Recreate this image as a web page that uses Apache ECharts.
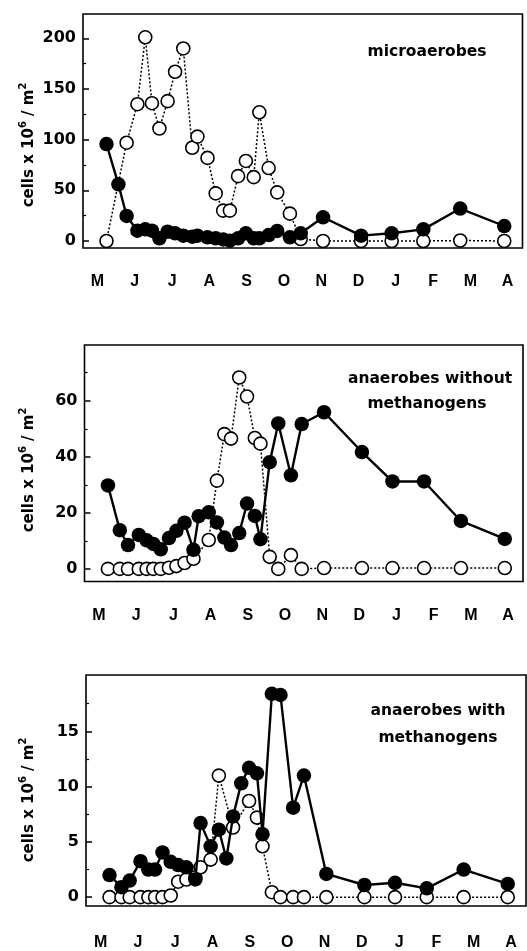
<!DOCTYPE html>
<html>
<head>
<meta charset="utf-8">
<script src="https://cdn.jsdelivr.net/npm/echarts@6/dist/echarts.min.js"></script>
<style>
    html, body { margin: 0; padding: 0; background: #fff; }
    #chart { width: 527px; height: 951px; }
</style>
</head>
<body>
<div id="chart"></div>
<script>
// month labels (May .. April), placed at integer positions
var months = ['M', 'J', 'J', 'A', 'S', 'O', 'N', 'D', 'J', 'F', 'M', 'A'];
var monthPos = [0, 1, 2, 3, 4, 5, 6, 7, 8, 9, 10, 11];

// sampling dates, in months after the "M" label
var dates = [0.24, 0.56, 0.78, 1.07, 1.28, 1.46, 1.66, 1.88, 2.08, 2.30,
    2.54, 2.68, 2.95, 3.17, 3.37, 3.55, 3.77, 3.98, 4.19, 4.34,
    4.59, 4.82, 5.16, 5.45, 6.05, 7.07, 7.89, 8.74, 9.73, 10.91];

// microaerobes
var microFilled = [95.7, 55.9, 24.7, 10.2, 11.5, 10.2, 2.6, 9.2, 7.6, 5.3,
    4.3, 5.3, 3.6, 2.6, 1.6, 0.3, 2.6, 7.6, 2.6, 2.6,
    5.9, 9.9, 3.6, 7.6, 23.4, 5.3, 7.6, 11.5, 32, 14.8];
var microOpen = [0, null, 97, 135, 201, 136, 111, 138, 167, 190,
    92, 103, 82, 47, 30, 30, 64, 79, 63, 127,
    72, 48, 27, 2, 0, 0, 0, 0, 0.5, 0];

// anaerobes without methanogens
var anaFilled = [29.8, 13.8, 8.5, 12.1, 10.2, 8.9, 7.0, 11.0, 13.6, 16.5,
    6.8, 18.8, 20.2, 16.6, 11.2, 8.5, 12.8, 23.3, 18.9, 10.6,
    38.1, 51.9, 33.4, 51.7, 55.9, 41.7, 31.2, 31.2, 17.1, 10.7];
var anaOpen = [0, 0, 0, 0, 0, 0, 0, 0.4, 1.0, 2.1,
    3.6, null, 10.3, 31.5, 48.1, 46.5, 68.3, 61.5, 46.7, 44.7,
    4.3, 0, 4.9, 0, 0.3, 0.3, 0.3, 0.3, 0.3, 0.3];

// anaerobes with methanogens
var methFilled = [2.0, 0.9, 1.5, 3.25, 2.5, 2.5, 4.05, 3.2, 2.9, 2.7,
    1.6, 6.7, 4.6, 6.1, 3.5, 7.3, 10.3, 11.7, 11.2, 5.7,
    18.4, 18.3, 8.1, 11.0, 2.1, 1.1, 1.3, 0.8, 2.5, 1.2];
var methOpen = [0, 0, 0, 0, 0, 0, 0, 0.15, 1.4, 1.6,
    1.8, 2.7, 3.4, 11.0, null, 6.3, null, 8.7, 7.2, 4.6,
    0.45, 0, 0, 0, 0, 0, 0, 0, 0, 0];

// y tick labels
var microTicks = [0, 50, 100, 150, 200];
var microMinor = [25, 75, 125, 175];
var anaTicks = [0, 20, 40, 60];
var anaMinor = [10, 30, 50, 70];
var methTicks = [0, 5, 10, 15];
var methMinor = [2.5, 7.5, 12.5, 17.5];

var panels = [
    {grid: {left: 83, top: 14, width: 439.5, height: 234}, min: -6.9, max: 224, labelGap: 26,
        ticks: microTicks, minor: microMinor, filled: microFilled, open: microOpen,
        labels: [['microaerobes', 427, 52]], title: [29, 145]},
    {grid: {left: 84.5, top: 345, width: 438.5, height: 236.5}, min: -4.5, max: 79.9, labelGap: 26,
        ticks: anaTicks, minor: anaMinor, filled: anaFilled, open: anaOpen,
        labels: [['anaerobes without', 430, 379], ['methanogens', 427, 404]], title: [29, 470]},
    {grid: {left: 86, top: 675, width: 440, height: 236}, min: -0.8, max: 20.1, labelGap: 29,
        ticks: methTicks, minor: methMinor, filled: methFilled, open: methOpen,
        labels: [['anaerobes with', 438, 711], ['methanogens', 438, 738]], title: [29, 800]}
];

function pairs(vals) {
    return dates.map(function (d, i) {
        return [d, vals[i] == null ? '-' : vals[i]];
    });
}

var chart = echarts.init(document.getElementById('chart'), null, {renderer: 'canvas'});
var grids = [], xAxes = [], yAxes = [], series = [], graphics = [];

panels.forEach(function (p, i) {
    grids.push({
        left: p.grid.left, top: p.grid.top, width: p.grid.width, height: p.grid.height,
        show: true, borderColor: '#000', borderWidth: 1.6, backgroundColor: 'transparent'
    });
    xAxes.push({
        gridIndex: i, type: 'value', position: 'bottom', min: -0.39, max: 11.4,
        axisLine: {show: false, onZero: false}, axisTick: {show: false}, splitLine: {show: false},
        axisLabel: {
            customValues: monthPos,
            formatter: function (v) { return months[Math.round(v)]; },
            margin: p.labelGap, color: '#000', fontSize: 16, fontWeight: 'bold',
            fontFamily: 'Liberation Sans'
        }
    });
    yAxes.push({
        gridIndex: i, type: 'value', position: 'left', min: p.min, max: p.max,
        axisLine: {show: false, onZero: false}, splitLine: {show: false},
        axisTick: {inside: true, length: 6, customValues: p.ticks, lineStyle: {color: '#000', width: 1.5}},
        axisLabel: {
            customValues: p.ticks, margin: 7, color: '#000', fontSize: 16,
            fontWeight: 'bold', fontFamily: 'DejaVu Sans'
        }
    });
    yAxes.push({
        gridIndex: i, type: 'value', position: 'left', min: p.min, max: p.max,
        axisLine: {show: false, onZero: false}, splitLine: {show: false}, axisLabel: {show: false},
        axisTick: {inside: true, length: 3, customValues: p.minor, lineStyle: {color: '#000', width: 1.2}}
    });
    series.push({
        type: 'line', xAxisIndex: i, yAxisIndex: i * 2, data: pairs(p.open),
        connectNulls: true, symbol: 'circle', symbolSize: 13, z: 2,
        itemStyle: {color: '#fff', borderColor: '#000', borderWidth: 1.6},
        lineStyle: {color: '#000', width: 1.5, type: [2, 2]}
    });
    series.push({
        type: 'line', xAxisIndex: i, yAxisIndex: i * 2, data: pairs(p.filled),
        symbol: 'circle', symbolSize: 14.5, z: 3,
        itemStyle: {color: '#000'},
        lineStyle: {color: '#000', width: 2.4}
    });
    p.labels.forEach(function (l) {
        graphics.push({
            type: 'text', x: l[1], y: l[2], z: 10,
            style: {
                text: l[0], align: 'center', verticalAlign: 'middle', fill: '#000',
                fontSize: 15.5, fontWeight: 'bold', fontFamily: 'DejaVu Sans'
            }
        });
    });
    graphics.push({
        type: 'text', x: p.title[0], y: p.title[1], rotation: Math.PI / 2, z: 10,
        style: {
            text: '{a|cells x 10}{s|6}{a| / m}{s|2}',
            align: 'center', verticalAlign: 'middle', fill: '#000',
            rich: {
                a: {fontSize: 15, fontWeight: 'bold', fontFamily: 'DejaVu Sans', fill: '#000', lineHeight: 22},
                s: {fontSize: 10, fontWeight: 'bold', fontFamily: 'DejaVu Sans', fill: '#000', verticalAlign: 'top', lineHeight: 12}
            }
        }
    });
});

chart.setOption({
    animation: false,
    backgroundColor: '#fff',
    grid: grids,
    xAxis: xAxes,
    yAxis: yAxes,
    series: series,
    graphic: graphics
});
</script>
</body>
</html>
